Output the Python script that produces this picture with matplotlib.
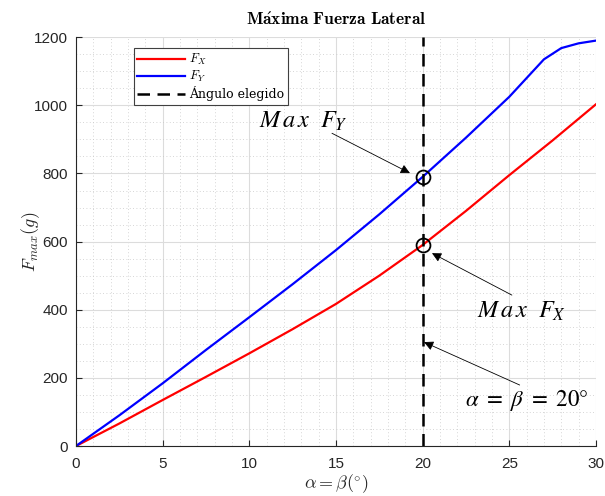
import matplotlib
matplotlib.use("Agg")
import matplotlib.pyplot as plt
from matplotlib.ticker import MultipleLocator

plt.rcParams['mathtext.fontset'] = 'cm'

# valores
ang_x = [0, 2.5, 5, 7.5, 10, 12.5, 15, 17.5, 20, 22.5, 25, 27.5, 30]
fx = [0, 66, 135, 203, 272, 343, 417, 500, 590, 690, 795, 897, 1003]

ang_y = [0, 2.5, 5, 7.5, 10, 12.5, 15, 17.5, 20, 22.5, 25, 26, 27, 28, 29, 30]
fy = [0, 90, 184, 282, 378, 475, 575, 680, 790, 905, 1025, 1080, 1135, 1168, 1182, 1190]

ang_sel = 20
fx_max = 590
fy_max = 790

fig = plt.figure(figsize=(6.05, 4.96), dpi=100)
ax = fig.add_axes([0.1256, 0.1008, 0.8594, 0.8242])

ax.plot(ang_x, fx, color='#ff0000', lw=1.6, label=r'$F_X$')
ax.plot(ang_y, fy, color='#0000ff', lw=1.6, label=r'$F_Y$')
ax.axvline(ang_sel, color='k', lw=1.8, ls=(0, (5, 3)), label='Ángulo elegido')
ax.plot([ang_sel, ang_sel], [fy_max, fx_max], 'o', mfc='none', mec='k', ms=10, mew=1.3)

ax.set_xlim(0, 30)
ax.set_ylim(0, 1200)
ax.xaxis.set_major_locator(MultipleLocator(5))
ax.xaxis.set_minor_locator(MultipleLocator(1))
ax.yaxis.set_major_locator(MultipleLocator(200))
ax.yaxis.set_minor_locator(MultipleLocator(50))
ax.grid(which='major', color='#dcdcdc', lw=0.8)
ax.grid(which='minor', color='#c8c8c8', lw=0.6, ls=(0, (1, 3)))
ax.set_axisbelow(True)
ax.tick_params(which='major', direction='in', length=4, color='#262626', labelsize=11)
ax.tick_params(axis='x', pad=8)
ax.tick_params(axis='y', pad=6)
ax.tick_params(which='minor', length=0)
for t in ax.get_xticklabels() + ax.get_yticklabels():
    t.set_fontfamily('Liberation Sans')
    t.set_color('#262626')
ax.spines['top'].set_visible(False)
ax.spines['right'].set_visible(False)
ax.spines['left'].set_color('#262626')
ax.spines['bottom'].set_color('#262626')

ax.set_title(r'$\mathbf{M\acute{a}xima\ Fuerza\ Lateral}$', fontsize=12.5, pad=9)
ax.set_xlabel(r'$\alpha = \beta (^{\circ})$', fontsize=13, color='#262626', labelpad=1)
ax.set_ylabel(r'$F_{max}(g)$', fontsize=13, color='#262626', labelpad=-6)

leg = ax.legend(loc='upper left', bbox_to_anchor=(0.111, 0.973), borderaxespad=0,
                prop={'family': 'DejaVu Serif', 'size': 9},
                fancybox=False, framealpha=1, edgecolor='#404040',
                handlelength=3.8, borderpad=0.3, labelspacing=0.15, handletextpad=0.3)
leg.get_frame().set_linewidth(0.8)

arrow = dict(arrowstyle='-|>', color='k', lw=0.6, mutation_scale=14, shrinkA=0, shrinkB=0)
ax.annotate('', xy=(19.27, 801), xytext=(14.77, 918), arrowprops=arrow)
ax.annotate('', xy=(20.54, 566), xytext=(25.15, 443), arrowprops=arrow)
ax.annotate('', xy=(20.08, 305), xytext=(25.6, 179), arrowprops=arrow)

ax.text(10.56, 955, r'$M\,a\,x\ \ F_Y$', fontsize=17.5, math_fontfamily='stix', ha='left', va='center')
ax.text(23.13, 397, r'$M\,a\,x\ \ F_X$', fontsize=17.5, math_fontfamily='stix', ha='left', va='center')
ax.text(22.44, 135, r'$\alpha\ =\ \beta\ =\ 20\degree$', fontsize=16.5, math_fontfamily='stix',
        ha='left', va='center')

fig.savefig('out.png', dpi=100)
